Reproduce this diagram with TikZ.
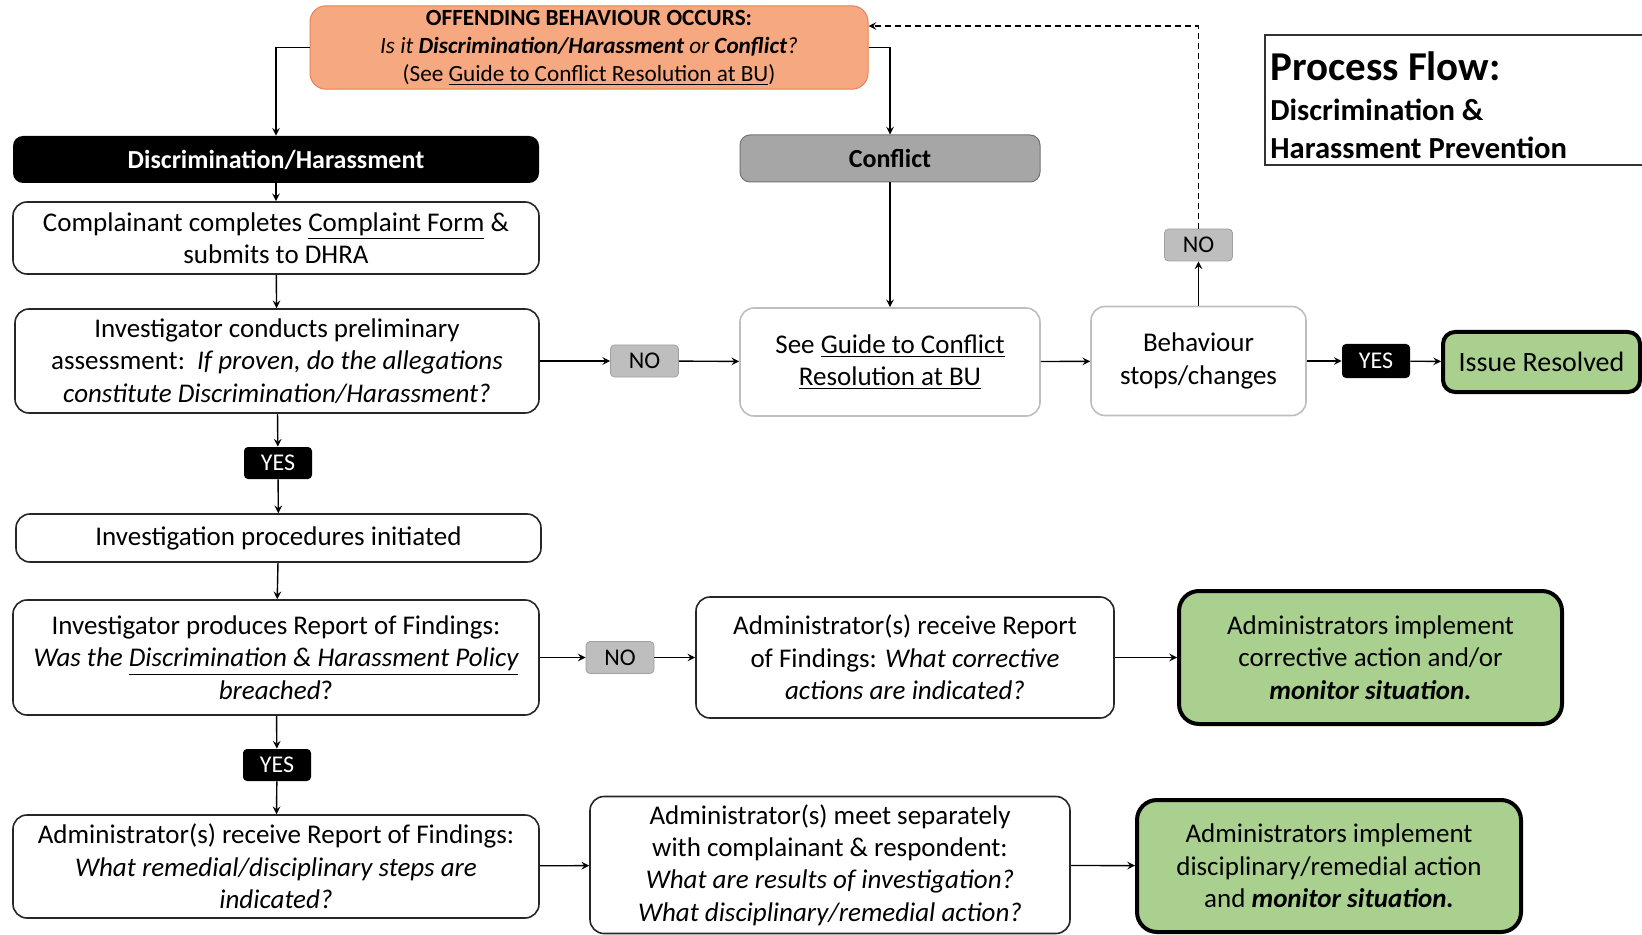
\documentclass[tikz,border=0pt]{standalone}
\usepackage{fontspec}
\setmainfont{Carlito}
\usetikzlibrary{positioning,calc,arrows.meta}
\definecolor{offorange}{RGB}{246,168,128}
\definecolor{offedge}{RGB}{232,130,85}
\definecolor{cfgray}{RGB}{166,166,166}
\definecolor{nogray}{RGB}{190,190,190}
\definecolor{okgreen}{RGB}{169,208,142}
\definecolor{softedge}{RGB}{190,190,190}

\begin{document}
\begin{tikzpicture}[x=0.5pt,y=-0.5pt]
	% shapes
	\tikzstyle{txt} = [font=\fontsize{13.5}{16.2}\selectfont, align=center, inner sep=2pt]	% text
	\tikzstyle{process} = [txt, rectangle, rounded corners=7pt, draw=black!85, line width=0.8pt, fill=white]	% step
	\tikzstyle{softbox} = [process, draw=softedge]	% conflict path
	\tikzstyle{headbox} = [txt, rectangle, rounded corners=5pt, font=\fontsize{13}{15.6}\selectfont\bfseries]	% heading
	\tikzstyle{tag} = [txt, rectangle, rounded corners=2pt, minimum width=34pt, minimum height=16pt, font=\fontsize{12}{14}\selectfont]	% answer
	\tikzstyle{tagno} = [tag, fill=nogray, draw=nogray!85!black, line width=0.4pt]
	\tikzstyle{tagyes} = [tag, fill=black, text=white]
	\tikzstyle{endbox} = [process, rounded corners=10pt, fill=okgreen, draw=black, line width=2pt]	% outcome
	\tikzstyle{arrow} = [line width=0.7pt, ->, >=stealth]	% connector

	\path [use as bounding box, fill=white] (0,0) rectangle (1642,935);

	% title
	\draw [line width=0.8pt, black!80] (1642,35) -| (1265,165) -- (1642,165);
	\node (pf) [anchor=base west, inner sep=0pt, font=\fontsize{20.5}{24}\selectfont\bfseries] at (1270,81) {Process Flow:};
	\node (pf2) [anchor=base west, inner sep=0pt, font=\fontsize{15.3}{18}\selectfont\bfseries] at (1270,121) {Discrimination \&};
	\node (pf3) [anchor=base west, inner sep=0pt, font=\fontsize{15.3}{18}\selectfont\bfseries] at (1270,159) {Harassment Prevention};

	\node (offend) [txt, rounded corners=8pt, fill=offorange, draw=offedge, line width=0.5pt, minimum width=279pt, minimum height=39.5pt, font=\fontsize{11.6}{14}\selectfont] at (589,47.5) {\textbf{OFFENDING BEHAVIOUR OCCURS:}\\\textit{Is it \textbf{Discrimination/Harassment} or \textbf{Conflict}?}\\(See \underline{Guide to Conflict Resolution at BU})};

	% discrimination branch
	\node (dh) [headbox, fill=black, text=white, minimum width=263pt, minimum height=23.5pt] at (276,159.5) {Discrimination/Harassment};
	\node (cmp) [process, minimum width=263pt, minimum height=36pt] at (276,238) {Complainant completes \underline{Complaint Form} \&\\submits to DHRA};
	\node (prel) [process, minimum width=262pt, minimum height=52pt] at (277,361) {Investigator conducts preliminary\\assessment:\ \ \textit{If proven, do the allegations}\\\textit{constitute Discrimination/Harassment?}};
	\node (yes0) [tagyes] at (278,463) {YES};
	\node (inv) [process, minimum width=262.5pt, minimum height=24pt] at (278.5,538) {Investigation procedures initiated};
	\node (rep) [process, minimum width=263pt, minimum height=57.5pt] at (276,657.5) {Investigator produces Report of Findings:\\\textit{Was the \underline{Discrimination \& Harassment Policy}}\\\textit{breached}?};
	\node (yes2) [tagyes] at (277,765) {YES};
	\node (rem) [process, minimum width=263pt, minimum height=51.5pt] at (276,866.5) {Administrator(s) receive Report of Findings:\\\textit{What remedial/disciplinary steps are}\\\textit{indicated?}};
	\node (meet) [process, minimum width=240pt, minimum height=68.5pt] at (830,865) {Administrator(s) meet separately\\with complainant \& respondent:\\\textit{What are results of investigation?}\\\textit{What disciplinary/remedial action?}};
	\node (impl2) [endbox, minimum width=192pt, minimum height=66pt] at (1329,866) {Administrators implement\\disciplinary/remedial action\\and \textbf{\textit{monitor situation.}}};

	% conflict branch
	\node (cf) [headbox, fill=cfgray, draw=black!55, line width=0.5pt, minimum width=150pt, minimum height=23.5pt] at (890,158.5) {Conflict};
	\node (no1) [tagno] at (644.5,361) {NO};
	\node (guide) [softbox, minimum width=150pt, minimum height=54pt] at (890,362) {See \underline{Guide to Conflict}\\\underline{Resolution at BU}};
	\node (beh) [softbox, minimum width=107.5pt, minimum height=54.5pt] at (1198.5,361) {Behaviour\\stops/changes};
	\node (no2) [tagno] at (1198.5,245) {NO};
	\node (yes1) [tagyes, minimum height=17pt] at (1376,361) {YES};
	\node (done) [endbox, rounded corners=6pt, minimum width=98.5pt, minimum height=30pt, font=\fontsize{14}{16.8}\selectfont] at (1541.5,362) {Issue Resolved};

	% no breach
	\node (no3) [tagno] at (620,657.5) {NO};
	\node (corr) [process, minimum width=209pt, minimum height=60.5pt] at (905,657.5) {Administrator(s) receive Report\\of Findings: \textit{What corrective}\\\textit{actions are indicated?}};
	\node (impl1) [endbox, minimum width=191.5pt, minimum height=66.5pt] at (1370.5,657.5) {Administrators implement\\corrective action and/or\\\textbf{\textit{monitor situation.}}};

	% connectors
	\draw [arrow] (offend.west) -| (dh.north);
	\draw [arrow] (offend.east) -| (cf.north);
	\draw [arrow] (dh) -- (cmp);
	\draw [arrow] (cmp) -- (prel);
	\draw [arrow] (prel) -- (yes0);
	\draw [arrow] (yes0) -- (inv);
	\draw [arrow] (inv) -- (rep);
	\draw [arrow] (rep) -- (yes2);
	\draw [arrow] (yes2) -- (rem);
	\draw [arrow] (rem) -- (meet);
	\draw [arrow] (meet) -- (impl2);
	\draw [arrow] (prel) -- (no1);
	\draw [arrow] (no1) -- (guide);
	\draw [arrow] (cf) -- (guide);
	\draw [arrow] (guide) -- (beh);
	\draw [arrow] (beh) -- (yes1);
	\draw [arrow] (yes1) -- (done);
	\draw [arrow] (beh) -- (no2);
	\draw [arrow, dash pattern=on 3pt off 2pt] (no2.north) |- ($(offend.east)+(0,-21.5)$);
	\draw [arrow] (rep) -- (no3);
	\draw [arrow] (no3) -- (corr);
	\draw [arrow] (corr) -- (impl1);
\end{tikzpicture}
\end{document}
